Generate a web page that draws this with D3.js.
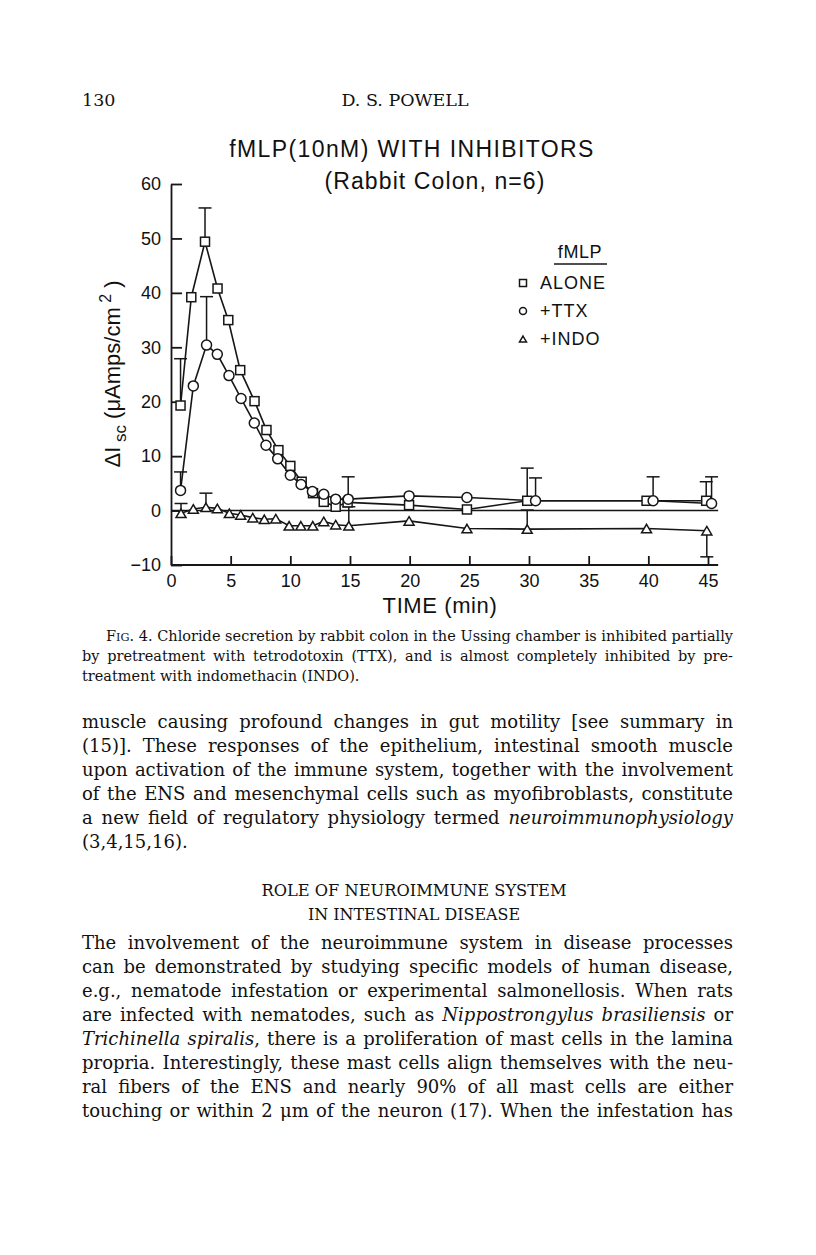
<!DOCTYPE html>
<html lang="en">
<head>
<meta charset="UTF-8">
<title>fMLP (10nM) with inhibitors</title>
<script src="https://d3js.org/d3.v7.min.js"></script>
<style>
    body { margin: 0; background: #fff; }
    svg text { fill: #111; }
    .page text { font-family: "DejaVu Serif", serif; }
    .chart text { font-family: "Liberation Sans", Arial, sans-serif; }
    .axis path, .axis line { stroke: #161616; stroke-width: 1.8; }
    .series path.line { fill: none; stroke: #161616; stroke-width: 1.6; }
    .mark { fill: #fff; stroke: #161616; stroke-width: 1.5; }
    .err { stroke: #161616; stroke-width: 1.5; }
</style>
</head>
<body>
<script>
    // time (min) and ΔIsc (µAmps/cm2)
    const timeAlone = [0.8, 1.7, 2.85, 3.9, 4.8, 5.8, 7.0, 8.0, 9.0, 10.0, 10.95, 11.9, 12.8, 13.8, 14.8, 19.95, 24.8, 29.85, 39.85, 44.85]
    const alone = [19.3, 39.2, 49.4, 40.8, 35.0, 25.8, 20.1, 14.8, 11.1, 8.2, 5.3, 3.2, 1.6, 0.7, 1.5, 1.0, 0.2, 1.8, 1.8, 1.8]
    const timeTTX = [0.8, 1.87, 2.98, 3.88, 4.86, 5.87, 6.98, 7.96, 8.94, 10.0, 10.9, 11.85, 12.8, 13.8, 14.85, 19.95, 24.8, 30.55, 40.4, 45.3]
    const ttx = [3.7, 22.9, 30.4, 28.7, 24.8, 20.6, 16.1, 12.0, 9.5, 6.5, 4.8, 3.5, 3.0, 2.1, 2.1, 2.7, 2.4, 1.8, 1.8, 1.3]
    const timeIndo = [0.84, 1.87, 2.93, 3.88, 4.89, 5.84, 6.85, 7.82, 8.78, 9.9, 10.88, 11.88, 12.8, 13.8, 14.9, 19.95, 24.8, 29.85, 39.85, 44.9]
    const indo = [-0.5, 0.3, 0.6, 0.4, -0.5, -0.8, -1.3, -1.6, -1.5, -2.8, -2.8, -2.8, -2.0, -2.6, -2.8, -1.9, -3.3, -3.4, -3.3, -3.7]

    // error bars: [time, value, SEM]  (negative SEM = drawn downward)
    const errAlone = [[0.8, 19.3, 8.6], [2.85, 49.4, 6.2], [29.85, 1.8, 6.0], [44.85, 1.8, 3.5]]
    const errTTX = [[0.8, 3.7, 3.4], [2.98, 30.4, 8.9], [14.85, 2.1, 4.1], [30.55, 1.8, 4.2], [40.4, 1.8, 4.4], [45.3, 1.3, 4.9]]
    const errIndo = [[0.84, -0.5, 1.8], [2.93, 0.6, 2.6], [14.9, -2.8, 3.5], [29.85, -3.4, 3.5], [44.9, -3.7, -4.8]]

    const xTicks = [0, 5, 10, 15, 20, 25, 30, 35, 40, 45]
    const yTicks = [-10, 0, 10, 20, 30, 40, 50, 60]
    const xEnd = 45.85

    const legendNames = ["ALONE", "+TTX", "+INDO"]

    const headerLines = ["130", "D. S. POWELL"]
    const captionLines = [
        "F^IG^. 4.  Chloride secretion by rabbit colon in the Ussing chamber is inhibited partially",
        "by pretreatment with tetrodotoxin (TTX), and is almost completely inhibited by pre-",
        "treatment with indomethacin (INDO)."
    ]
    const para1 = [
        "muscle causing profound changes in gut motility [see summary in",
        "(15)]. These responses of the epithelium, intestinal smooth muscle",
        "upon activation of the immune system, together with the involvement",
        "of the ENS and mesenchymal cells such as myofibroblasts, constitute",
        "a new field of regulatory physiology termed _neuroimmunophysiology_",
        "(3,4,15,16)."
    ]
    const headingLines = ["ROLE OF NEUROIMMUNE SYSTEM", "IN INTESTINAL DISEASE"]
    const para2 = [
        "The involvement of the neuroimmune system in disease processes",
        "can be demonstrated by studying specific models of human disease,",
        "e.g., nematode infestation or experimental salmonellosis. When rats",
        "are infected with nematodes, such as _Nippostrongylus brasiliensis_ or",
        "_Trichinella spiralis_, there is a proliferation of mast cells in the lamina",
        "propria. Interestingly, these mast cells align themselves with the neu-",
        "ral fibers of the ENS and nearly 90% of all mast cells are either",
        "touching or within 2 \u03bcm of the neuron (17). When the infestation has"
    ]

    const svg = d3.select("body").append("svg")
        .attr("width", 816)
        .attr("height", 1255)

    // ---------- chart ----------
    const chart = svg.append("g").attr("class", "chart")

    const x = d3.scaleLinear().domain([0, 45]).range([171, 708])
    const y = d3.scaleLinear().domain([-10, 60]).range([565, 184])

    chart.append("text")
        .attr("x", 412).attr("y", 157)
        .attr("text-anchor", "middle")
        .style("font-size", "23px")
        .style("letter-spacing", "1.4px")
        .text("fMLP(10nM) WITH INHIBITORS")
    chart.append("text")
        .attr("x", 435).attr("y", 189)
        .attr("text-anchor", "middle")
        .style("font-size", "23px")
        .style("letter-spacing", "1.1px")
        .text("(Rabbit Colon, n=6)")

    const yAxis = chart.append("g")
        .attr("class", "axis")
        .attr("transform", "translate(" + x(0) + ",0)")
        .call(d3.axisLeft(y).tickValues(yTicks).tickSizeInner(-11).tickSizeOuter(0).tickPadding(10))
    yAxis.selectAll("text").style("font-size", "18px").style("font-family", "Liberation Sans, Arial, sans-serif")

    const xAxis = chart.append("g")
        .attr("class", "axis")
        .attr("transform", "translate(0," + y(-10) + ")")
        .call(d3.axisBottom(x).tickValues(xTicks).tickSizeInner(-9).tickSizeOuter(0).tickPadding(9))
    xAxis.select(".domain").remove()
    xAxis.selectAll("text").style("font-size", "18px").style("font-family", "Liberation Sans, Arial, sans-serif")
    chart.append("line")
        .attr("class", "err")
        .style("stroke-width", 1.8)
        .attr("x1", x(0)).attr("x2", x(xEnd))
        .attr("y1", y(-10)).attr("y2", y(-10))

    // zero reference line
    chart.append("line")
        .attr("class", "err")
        .attr("x1", x(0)).attr("x2", x(xEnd))
        .attr("y1", y(0)).attr("y2", y(0))

    chart.append("text")
        .attr("x", 440).attr("y", 613)
        .attr("text-anchor", "middle")
        .style("font-size", "22px")
        .style("letter-spacing", "0.6px")
        .text("TIME (min)")

    const yLab = chart.append("text")
        .attr("transform", "translate(120,374) rotate(-90)")
        .attr("text-anchor", "middle")
        .style("font-size", "22px")
    yLab.append("tspan").text("\u0394I")
    yLab.append("tspan").attr("dy", 6).style("font-size", "17px").text(" sc")
    yLab.append("tspan").attr("dy", -6).text(" (\u03bcAmps/cm")
    yLab.append("tspan").attr("dy", -9).style("font-size", "16px").text(" 2")
    yLab.append("tspan").attr("dy", 9).text(" )")

    const line = d3.line().x(d => x(d[0])).y(d => y(d[1]))

    function square(g, s) {
        g.append("rect").attr("class", "mark")
            .attr("x", -s / 2).attr("y", -s / 2).attr("width", s).attr("height", s)
    }
    function circle(g, s) {
        g.append("circle").attr("class", "mark").attr("r", s / 2)
    }
    function triangle(g, s) {
        const h = s * 0.85
        g.append("path").attr("class", "mark")
            .attr("d", "M0," + (-h / 2) + "L" + (s / 2) + "," + (h / 2) + "L" + (-s / 2) + "," + (h / 2) + "Z")
    }

    const series = [
        { t: timeAlone, v: alone, err: errAlone, shape: square, size: 9 },
        { t: timeTTX, v: ttx, err: errTTX, shape: circle, size: 10 },
        { t: timeIndo, v: indo, err: errIndo, shape: triangle, size: 10 }
    ]

    series.forEach(s => {
        const g = chart.append("g").attr("class", "series")
        const pts = s.t.map((t, i) => [t, s.v[i]])
        g.append("path").attr("class", "line").attr("d", line(pts))
        s.err.forEach(e => {
            const top = y(e[1] + e[2])
            g.append("line").attr("class", "err")
                .attr("x1", x(e[0])).attr("x2", x(e[0]))
                .attr("y1", y(e[1])).attr("y2", top)
            g.append("line").attr("class", "err")
                .attr("x1", x(e[0]) - 6.5).attr("x2", x(e[0]) + 6.5)
                .attr("y1", top).attr("y2", top)
        })
    })
    series.forEach(s => {
        s.t.forEach((t, i) => {
            const m = chart.append("g").attr("transform", "translate(" + x(t) + "," + y(s.v[i]) + ")")
            s.shape(m, s.size)
        })
    })

    // legend
    const legend = chart.append("g")
    legend.append("text").attr("x", 580).attr("y", 258)
        .attr("text-anchor", "middle").style("font-size", "18px").style("letter-spacing", "0.6px").text("fMLP")
    legend.append("line").attr("class", "err")
        .attr("x1", 554).attr("x2", 607).attr("y1", 264).attr("y2", 264)
    legendNames.forEach((name, i) => {
        const ly = 283 + i * 28
        const m = legend.append("g").attr("transform", "translate(523," + ly + ")")
        series[i].shape(m, 7)
        legend.append("text").attr("x", 540).attr("y", ly + 6)
            .style("font-size", "18px").style("letter-spacing", "1px").text(name)
    })

    // ---------- page text ----------
    const page = svg.append("g").attr("class", "page")
    const left = 82, right = 733

    function textLine(str, x0, y0, width, size, justify) {
        const t = page.append("text").attr("x", x0).attr("y", y0).style("font-size", size + "px")
        str.split(/(_[^_]+_|\^[^^]+\^)/).filter(s => s).forEach(s => {
            if (s[0] === "_") t.append("tspan").style("font-style", "italic").text(s.slice(1, -1))
            else if (s[0] === "^") t.append("tspan").style("font-size", (size * 0.78) + "px").text(s.slice(1, -1))
            else t.append("tspan").text(s)
        })
        if (justify) {
            const w = t.node().getComputedTextLength()
            const gaps = (str.match(/ +/g) || []).length
            if (w < width && gaps) t.style("word-spacing", ((width - w) / gaps) + "px")
            else if (w > width) t.attr("textLength", width).attr("lengthAdjust", "spacingAndGlyphs")
        }
        return t
    }

    textLine(headerLines[0], left, 106, 0, 17.5, false)
    textLine(headerLines[1], 405, 106, 0, 17.5, false).attr("text-anchor", "middle")

    captionLines.forEach((l, i) => {
        const x0 = i === 0 ? 106 : left
        textLine(l, x0, 641 + i * 20, right - x0, 14.5, i < captionLines.length - 1)
    })

    para1.forEach((l, i) => {
        textLine(l, left, 728 + i * 24, right - left, 18, i < para1.length - 1)
    })

    const hw = [305, 212]
    headingLines.forEach((l, i) => {
        textLine(l, 414, 896 + i * 24, 0, 17.5, false)
            .attr("text-anchor", "middle")
            .attr("textLength", hw[i]).attr("lengthAdjust", "spacingAndGlyphs")
    })

    para2.forEach((l, i) => {
        textLine(l, left, 949 + i * 24, right - left, 18, true)
    })
</script>
</body>
</html>
